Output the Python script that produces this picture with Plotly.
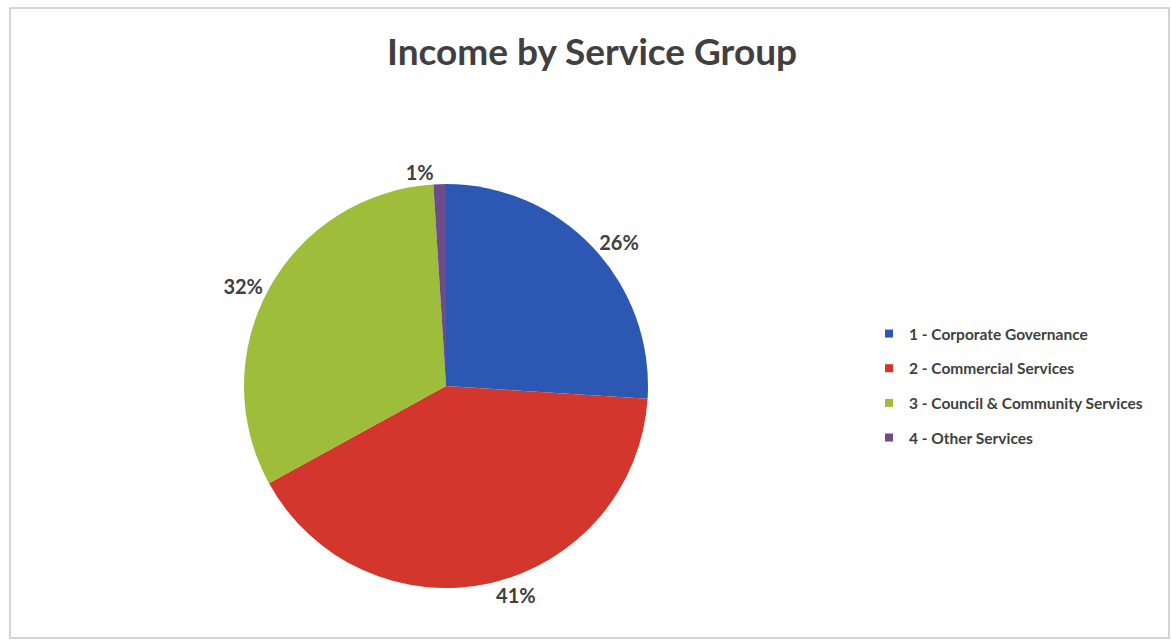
import plotly.graph_objects as go

categories = ["1 - Corporate Governance", "2 - Commercial Services",
              "3 - Council & Community Services", "4 - Other Services"]
values = [26, 41, 32, 1]
colors = ["#2C58B4", "#D2362C", "#9EBD3A", "#6E4C8C"]

W, H = 1171, 643
cx, cy, r = 446, 386, 202

fig = go.Figure()
fig.add_trace(go.Pie(
    labels=categories, values=values, sort=False, direction="clockwise",
    rotation=0, marker=dict(colors=colors, line=dict(width=0)),
    texttemplate="<b>%{percent:.0%}</b>", textposition="outside",
    textfont=dict(family="Lato", size=20, color="#404040"),
    showlegend=False, hoverinfo="label+percent",
    domain=dict(x=[(cx - r) / W, (cx + r) / W],
                y=[(H - cy - r) / H, (H - cy + r) / H]),
))
for i, (c, col) in enumerate(zip(categories, colors)):
    fig.add_trace(go.Scatter(
        x=[None], y=[None], mode="markers", name=f"<b>{c}</b>", legendgroup=f"g{i}",
        marker=dict(symbol="square", size=8, color=col),
    ))

fig.update_layout(
    width=W, height=H, autosize=False,
    margin=dict(l=0, r=0, t=0, b=0),
    paper_bgcolor="white", plot_bgcolor="white",
    xaxis=dict(visible=False), yaxis=dict(visible=False),
    title=dict(text="<b>Income by Service Group</b>", x=592 / W, xanchor="center",
               y=1 - 52 / H, yanchor="middle",
               font=dict(family="Lato", size=37, color="#404040")),
    legend=dict(x=869 / W, y=1 - 317 / H, xanchor="left", yanchor="top",
                font=dict(family="Lato", size=15.5, color="#404040"),
                tracegroupgap=11.5, itemwidth=30, bgcolor="rgba(0,0,0,0)"),
    shapes=[dict(type="rect", xref="paper", yref="paper",
                 x0=10 / W, x1=1169 / W, y0=1 - 638 / H, y1=1 - 8 / H,
                 line=dict(color="#C8C8C8", width=1.5))],
)
fig.write_html("out.html", config={"displayModeBar": False},
               post_script="document.body.style.margin='0';document.body.style.overflow='hidden';")
